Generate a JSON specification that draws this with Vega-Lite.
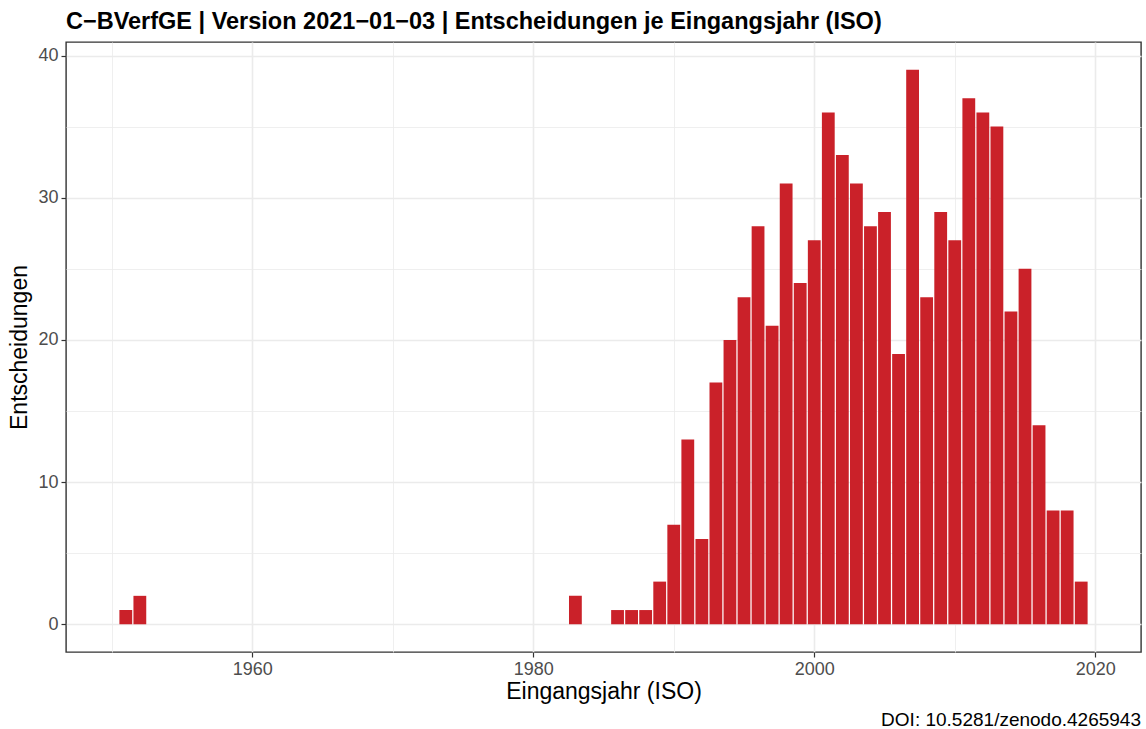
{
  "$schema": "https://vega.github.io/schema/vega-lite/v6.json",
  "autosize": {"type": "none"},
  "padding": {"left": 66, "top": 42, "right": 5, "bottom": 77},
  "width": 1075,
  "height": 610,
  "background": "white",
  "config": {
    "font": "Liberation Sans",
    "view": {"stroke": "#333333", "strokeWidth": 1.4}
  },
  "title": {
    "text": "C−BVerfGE | Version 2021−01−03 | Entscheidungen je Eingangsjahr (ISO)",
    "anchor": "start",
    "frame": "group",
    "fontSize": 23.5,
    "fontWeight": "bold",
    "color": "#000000",
    "font": "Liberation Sans",
    "offset": 9
  },
  "layer": [
    {
      "data": {"values": [
        {"jahr": 1951, "n": 1}, {"jahr": 1952, "n": 2}, {"jahr": 1983, "n": 2},
        {"jahr": 1986, "n": 1}, {"jahr": 1987, "n": 1}, {"jahr": 1988, "n": 1},
        {"jahr": 1989, "n": 3}, {"jahr": 1990, "n": 7}, {"jahr": 1991, "n": 13},
        {"jahr": 1992, "n": 6}, {"jahr": 1993, "n": 17}, {"jahr": 1994, "n": 20},
        {"jahr": 1995, "n": 23}, {"jahr": 1996, "n": 28}, {"jahr": 1997, "n": 21},
        {"jahr": 1998, "n": 31}, {"jahr": 1999, "n": 24}, {"jahr": 2000, "n": 27},
        {"jahr": 2001, "n": 36}, {"jahr": 2002, "n": 33}, {"jahr": 2003, "n": 31},
        {"jahr": 2004, "n": 28}, {"jahr": 2005, "n": 29}, {"jahr": 2006, "n": 19},
        {"jahr": 2007, "n": 39}, {"jahr": 2008, "n": 23}, {"jahr": 2009, "n": 29},
        {"jahr": 2010, "n": 27}, {"jahr": 2011, "n": 37}, {"jahr": 2012, "n": 36},
        {"jahr": 2013, "n": 35}, {"jahr": 2014, "n": 22}, {"jahr": 2015, "n": 25},
        {"jahr": 2016, "n": 14}, {"jahr": 2017, "n": 8}, {"jahr": 2018, "n": 8},
        {"jahr": 2019, "n": 3}
      ]},
      "mark": {"type": "bar", "color": "#CA2129", "width": 12.8},
      "encoding": {
        "x": {
          "field": "jahr", "type": "quantitative",
          "scale": {"domain": [1947.1, 2022.9], "nice": false, "zero": false},
          "axis": {
            "values": [1950, 1960, 1970, 1980, 1990, 2000, 2010, 2020],
            "labelExpr": "datum.value % 20 == 0 ? datum.value : ''",
            "format": "d",
            "title": "Eingangsjahr (ISO)",
            "titleFontSize": 23,
            "titleFontWeight": "normal",
            "titleColor": "#000000",
            "titlePadding": 2,
            "labelFontSize": 18,
            "labelColor": "#4D4D4D",
            "labelPadding": 3,
            "labelFlush": false,
            "domain": false,
            "tickSize": 5,
            "tickWidth": 1.2,
            "tickColor": "#333333",
            "tickOpacity": {"condition": {"test": "datum.value % 20 == 0", "value": 1}, "value": 0},
            "gridColor": "#EBEBEB",
            "gridWidth": {"condition": {"test": "datum.value % 20 == 0", "value": 1.6}, "value": 0.8}
          }
        },
        "y": {
          "field": "n", "type": "quantitative",
          "scale": {"domain": [-1.95, 40.95], "nice": false, "zero": false},
          "axis": {
            "values": [0, 5, 10, 15, 20, 25, 30, 35, 40],
            "labelExpr": "datum.value % 10 == 0 ? datum.value : ''",
            "title": "Entscheidungen",
            "titleFontSize": 23,
            "titleFontWeight": "normal",
            "titleColor": "#000000",
            "titlePadding": 6,
            "labelFontSize": 18,
            "labelColor": "#4D4D4D",
            "labelPadding": 3,
            "labelFlush": false,
            "domain": false,
            "tickSize": 5,
            "tickWidth": 1.2,
            "tickColor": "#333333",
            "tickOpacity": {"condition": {"test": "datum.value % 10 == 0", "value": 1}, "value": 0},
            "gridColor": "#EBEBEB",
            "gridWidth": {"condition": {"test": "datum.value % 10 == 0", "value": 1.6}, "value": 0.8}
          }
        },
        "y2": {"datum": 0}
      }
    },
    {
      "data": {"values": [{"caption": "DOI: 10.5281/zenodo.4265943"}]},
      "mark": {
        "type": "text",
        "align": "right",
        "baseline": "alphabetic",
        "fontSize": 19,
        "color": "#000000",
        "x": {"expr": "width"},
        "y": {"expr": "height + 74"}
      },
      "encoding": {"text": {"field": "caption", "type": "nominal"}}
    }
  ]
}
